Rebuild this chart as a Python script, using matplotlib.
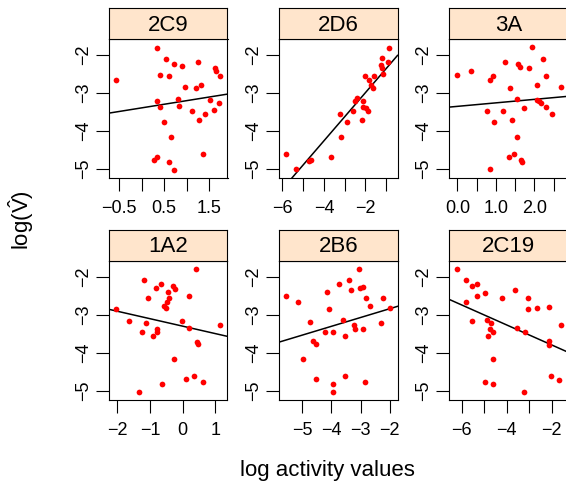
import matplotlib
matplotlib.use('Agg')
import matplotlib.pyplot as plt

plt.rcParams['font.family'] = ['Liberation Sans', 'DejaVu Sans']
plt.rcParams['mathtext.fontset'] = 'custom'
plt.rcParams['mathtext.rm'] = 'Liberation Sans'
plt.rcParams['mathtext.it'] = 'Liberation Sans:italic'

# panel order: top row then bottom row
panels = ['2C9', '2D6', '3A', '1A2', '2B6', '2C19']

x_2C9 = [-0.57, 0.35, 0.54, 0.71, 0.90, 1.26, 0.41, 0.60, 0.97, 1.21, 1.32, 1.62, 1.66, 1.75, 0.34, 0.42,
         0.80, 0.84, 1.12, 1.27, 1.40, 1.52, 1.61, 1.71, 0.49, 0.65, 0.28, 0.34, 0.60, 0.71, 1.36]
y_2C9 = [-2.67, -1.81, -2.10, -2.24, -2.30, -2.18, -2.52, -2.55, -2.83, -2.86, -2.79, -2.35, -2.41, -2.55, -3.21, -3.37,
         -3.16, -3.35, -3.46, -3.70, -3.55, -3.18, -3.45, -3.27, -3.77, -4.16, -4.76, -4.68, -4.81, -5.01, -4.59]

x_2D6 = [-5.83, -5.33, -4.71, -4.60, -3.68, -3.19, -3.21, -2.90, -2.62, -2.50, -2.43, -2.17, -2.14, -2.11,
         -1.98, -1.87, -2.01, -1.59, -1.82, -1.73, -1.62, -1.14, -1.19, -1.27, -0.91, -1.22, -0.86]
y_2D6 = [-4.59, -5.00, -4.79, -4.76, -4.68, -4.15, -3.55, -3.77, -3.47, -3.20, -3.14, -3.71, -3.20, -3.36,
         -3.40, -3.47, -2.56, -2.56, -2.67, -2.79, -2.86, -2.51, -2.35, -2.26, -2.19, -2.09, -1.81]

x_3A = [-0.02, 0.35, 0.85, 0.92, 1.23, 1.58, 1.63, 1.85, 1.95, 2.23, 2.29, 2.06, 1.37, 2.69, 0.78, 1.19,
        1.54, 1.73, 2.08, 2.13, 2.17, 2.29, 2.47, 0.96, 1.43, 1.56, 1.33, 1.48, 1.65, 1.67, 0.84]
y_3A = [-2.52, -2.43, -2.67, -2.55, -2.18, -2.24, -2.31, -2.35, -1.80, -2.10, -2.55, -2.79, -2.86, -2.83, -3.46, -3.46,
        -3.15, -3.38, -3.17, -3.22, -3.27, -3.36, -3.55, -3.77, -3.70, -4.16, -4.69, -4.60, -4.77, -4.82, -5.00]

x_1A2 = [-2.04, -1.65, -1.17, -0.67, -0.82, -1.05, -0.45, -0.31, -0.24, -0.41, -0.47, -0.57, -0.52, 0.40, 0.18, -1.13,
         -1.24, -0.92, -0.80, -0.78, -0.02, 0.18, 1.15, 0.45, 0.46, -0.26, 0.10, 0.33, 0.63, -0.64, -1.35]
y_1A2 = [-2.85, -3.16, -2.09, -2.18, -2.29, -2.56, -2.41, -2.25, -2.33, -2.55, -2.67, -2.78, -2.82, -1.79, -2.52, -3.22,
         -3.46, -3.55, -3.37, -3.45, -3.17, -3.35, -3.26, -3.71, -3.76, -4.17, -4.70, -4.61, -4.78, -4.82, -5.03]

x_2B6 = [-5.56, -5.15, -4.74, -4.63, -4.54, -4.99, -4.54, -4.23, -4.15, -4.09, -3.94, -3.94, -3.94, -3.75, -3.59, -3.53,
         -3.53, -3.40, -3.34, -3.23, -3.18, -3.05, -3.01, -2.93, -2.91, -2.82, -2.83, -2.67, -2.22, -1.98, -2.31]
y_2B6 = [-2.52, -2.67, -3.18, -3.69, -3.78, -4.17, -4.70, -3.46, -2.41, -2.86, -3.45, -4.82, -5.02, -2.18, -3.15, -3.55,
         -4.61, -2.09, -2.34, -3.26, -3.37, -1.79, -2.29, -2.26, -3.37, -2.56, -4.78, -2.78, -2.55, -2.83, -3.22]

x_2C19 = [-6.22, -5.82, -5.53, -5.30, -5.81, -5.30, -4.96, -5.53, -4.86, -4.71, -4.74, -4.59, -4.84, -4.62, -4.96,
          -4.62, -4.20, -3.62, -3.53, -3.18, -3.05, -3.05, -2.65, -3.22, -2.12, -1.60, -2.11, -2.10, -2.03, -1.69]
y_2C19 = [-1.80, -2.10, -2.25, -2.18, -2.66, -2.52, -2.42, -3.17, -3.15, -3.22, -3.37, -3.45, -3.55, -4.17, -4.78,
          -4.82, -2.56, -2.34, -3.35, -3.46, -2.55, -2.85, -2.83, -5.02, -2.79, -3.26, -3.70, -3.79, -4.60, -4.71]

# fitted regression lines
slopes = [0.19, 0.634, 0.092, -0.196, 0.231, -0.263]
intercepts = [-3.39, -1.72, -3.35, -3.30, -2.38, -4.32]

xticks = [[-0.5, 0, 0.5, 1, 1.5], [-6, -5, -4, -3, -2, -1], [0, 0.5, 1, 1.5, 2, 2.5],
          [-2, -1, 0, 1], [-5, -4, -3, -2], [-6, -5, -4, -3, -2]]
xticklabels = [['−0.5', '', '0.5', '', '1.5'], ['−6', '', '−4', '', '−2', ''], ['0.0', '', '1.0', '', '2.0', ''],
               ['−2', '−1', '0', '1'], ['−5', '−4', '−3', '−2'], ['−6', '', '−4', '', '−2']]
xlims = [(-0.722, 1.907), (-6.16, -0.46), (-0.216, 2.86), (-2.255, 1.37), (-5.80, -1.73), (-6.56, -1.30)]

yticks = [-2, -3, -4, -5]
yticklabels = ['−2', '−3', '−4', '−5']

xs = [x_2C9, x_2D6, x_3A, x_1A2, x_2B6, x_2C19]
ys = [y_2C9, y_2D6, y_3A, y_1A2, y_2B6, y_2C19]

W, H = 566, 486
fig = plt.figure(figsize=(W / 100, H / 100), dpi=100)

col_left = [109, 279, 449]
row_top = [39, 260.7]
pw, ph, sh = 118.5, 139.3, 31

for i, name in enumerate(panels):
    r, c = divmod(i, 3)
    l, t = col_left[c], row_top[r]
    ax = fig.add_axes([l / W, 1 - (t + ph) / H, pw / W, ph / H])
    ax.scatter(xs[i], ys[i], s=17, color='#FF0000', linewidths=0, zorder=3)
    ax.axline((0, intercepts[i]), slope=slopes[i], color='black', lw=1.1)
    ax.set_xlim(*xlims[i])
    ax.set_ylim(-5.24, -1.58)
    ax.set_xticks(xticks[i])
    ax.set_xticklabels(xticklabels[i])
    ax.set_yticks(yticks)
    ax.set_yticklabels(yticklabels, rotation=90, va='center')
    ax.tick_params(direction='out', length=9.5, width=0.8, labelsize=13)
    ax.tick_params(axis='x', pad=6)
    ax.tick_params(axis='y', pad=3)
    for sp in ax.spines.values():
        sp.set_linewidth(0.8)

    # strip on top of each panel
    st = fig.add_axes([l / W, 1 - t / H, pw / W, sh / H])
    st.set_facecolor('#FFE5CC')
    st.set_xticks([])
    st.set_yticks([])
    for sp in st.spines.values():
        sp.set_linewidth(0.8)
    st.text(0.5, 0.45, name, ha='center', va='center', fontsize=16)

fig.text(327 / W, 1 - 470 / H, 'log activity values', ha='center', va='center', fontsize=16)
fig.text(21 / W, 1 - 220 / H, r'log($\hat{\mathrm{V}}$)', ha='center', va='center', rotation=90, fontsize=16)

fig.savefig('out.png', dpi=100)
